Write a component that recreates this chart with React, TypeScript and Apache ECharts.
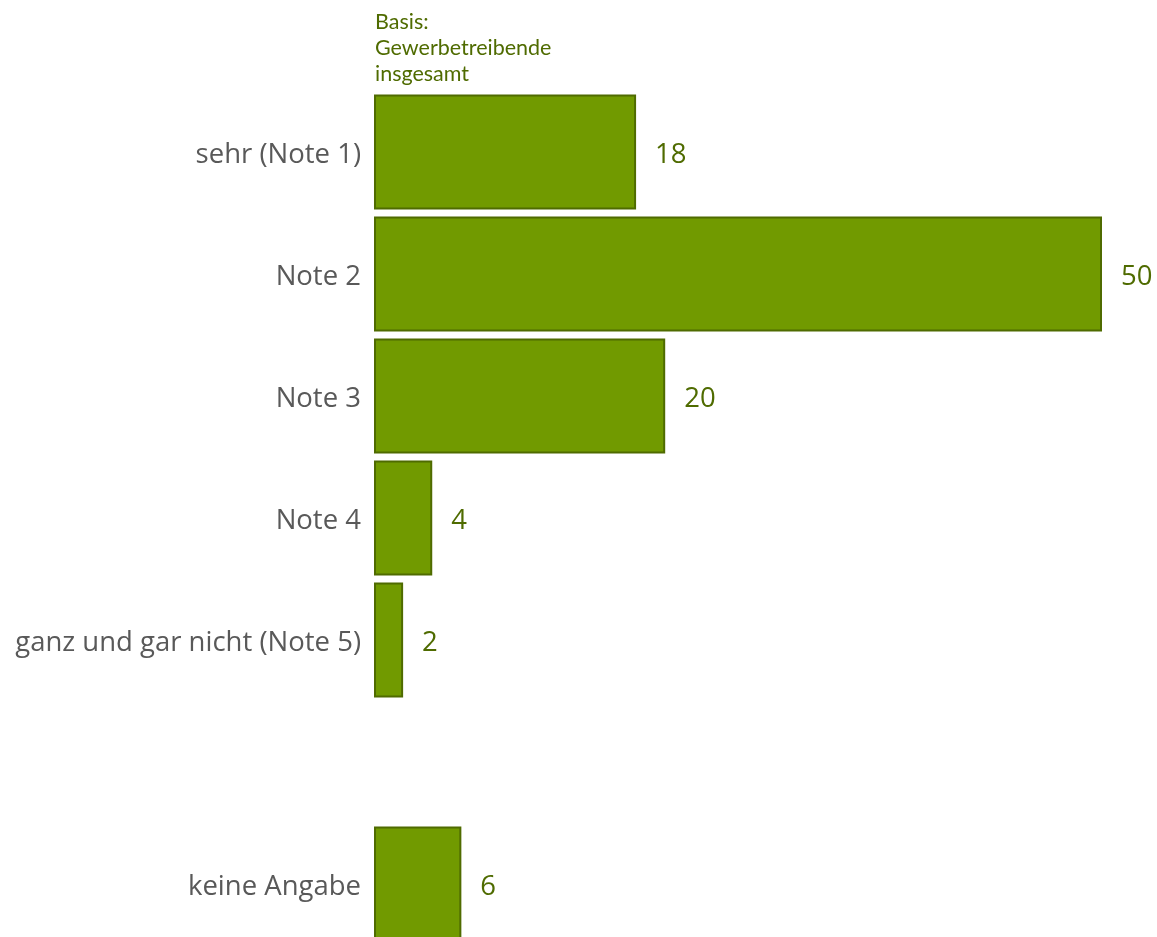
import React, { useEffect, useRef } from "react";
import * as echarts from "echarts";

const categories = [
  "sehr (Note 1)",
  "Note 2",
  "Note 3",
  "Note 4",
  "ganz und gar nicht (Note 5)",
  "",
  "keine Angabe",
];
const values: (number | string)[] = [18, 50, 20, 4, 2, "-", 6];
const titleLines = ["Basis:", "Gewerbetreibende", "insgesamt"];

const FONT = "'Open Sans', sans-serif";
const TITLE_FONT = "Lato, 'Open Sans', sans-serif";

export default function App() {
  const ref = useRef<HTMLDivElement>(null);
  useEffect(() => {
    if (!ref.current) return;
    const chart = echarts.init(ref.current, undefined, { renderer: "svg" });
    chart.setOption({
      animation: false,
      graphic: titleLines.map((line, i) => ({
        type: "text",
        left: 375,
        top: 10 + i * 26,
        style: {
          text: line,
          fill: "#4F6B00",
          font: `21.5px ${TITLE_FONT}`,
        },
      })),
      grid: { left: 374, top: 91, height: 854, width: 728 },
      xAxis: {
        type: "value",
        min: 0,
        max: 50,
        show: false,
      },
      yAxis: {
        type: "category",
        data: categories,
        inverse: true,
        axisLine: { show: false },
        axisTick: { show: false },
        splitLine: { show: false },
        axisLabel: {
          color: "#595959",
          fontFamily: FONT,
          fontSize: 27.5,
          margin: 13,
        },
      },
      series: [
        {
          type: "bar",
          data: values,
          barWidth: 115,
          itemStyle: {
            color: "#719A00",
            borderColor: "#4F6B00",
            borderWidth: 2,
          },
          label: {
            show: true,
            position: "right",
            distance: 19,
            color: "#4F6B00",
            fontFamily: FONT,
            fontSize: 27.5,
          },
        },
      ],
    });
    return () => chart.dispose();
  }, []);
  return (
    <div
      ref={ref}
      style={{ position: "fixed", left: 0, top: 0, width: 1157, height: 1000 }}
    />
  );
}
